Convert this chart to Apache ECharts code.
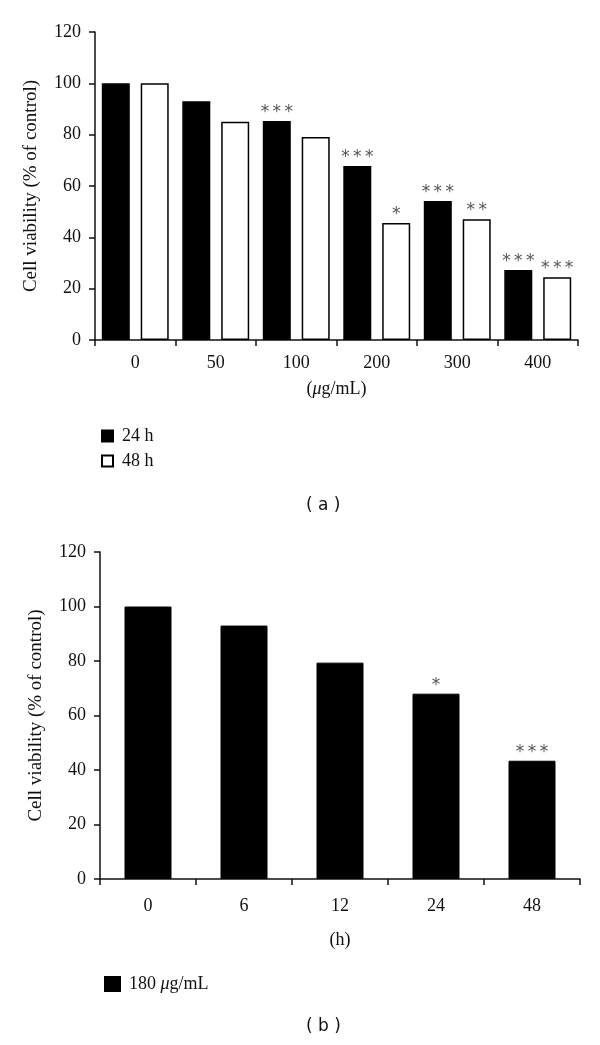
<!DOCTYPE html>
<html>
<head>
<meta charset="utf-8">
<style>
  html, body { margin: 0; padding: 0; background: #fff; }
  #chart { width: 600px; height: 1045px; }
</style>
<script src="https://cdn.jsdelivr.net/npm/echarts@6/dist/echarts.min.js"></script>
</head>
<body>
<div id="chart"></div>
<script>
// ---- data ----
const doses = ['0', '50', '100', '200', '300', '400'];
const viability24h = [100, 93, 85.3, 67.8, 54.2, 27.3];
const viability48h = [100, 85, 79.1, 45.6, 47, 24.4];
const sig24h = ['', '', '***', '***', '***', '***'];
const sig48h = ['', '', '', '*', '**', '***'];

const hours = ['0', '6', '12', '24', '48'];
const viability180 = [100, 93, 79.4, 68, 43.4];
const sig180 = ['', '', '', '*', '***'];

const yMin = 0, yMax = 120, yStep = 20;

const serif = 'Liberation Serif';
const sans = 'DejaVu Sans';
const ink = '#111';

function starLabel(sig) {
  return {
    show: true,
    position: 'top',
    distance: 0,
    fontFamily: sans,
    fontSize: 17,
    color: '#555',
    formatter: p => sig[p.dataIndex].split('').join('\u2009')
  };
}

function yAxisCfg(gridIndex) {
  return {
    type: 'value', gridIndex, min: yMin, max: yMax, interval: yStep,
    name: 'Cell viability (% of control)',
    nameLocation: 'middle', nameGap: 54,
    nameTextStyle: { fontFamily: serif, fontSize: 19, color: ink },
    axisLine: { show: true, lineStyle: { color: ink, width: 1.5 } },
    axisTick: { show: true, length: 6, lineStyle: { color: ink, width: 1.5 } },
    axisLabel: { fontFamily: serif, fontSize: 18, color: ink, margin: 14 },
    splitLine: { show: false }
  };
}

function xAxisCfg(gridIndex, cats, name, gap, margin) {
  return {
    type: 'category', gridIndex, data: cats,
    name, nameLocation: 'middle', nameGap: gap,
    nameTextStyle: {
      fontFamily: serif, fontSize: 18, color: ink,
      rich: { i: { fontFamily: serif, fontSize: 18, fontStyle: 'italic', color: ink } }
    },
    axisLine: { show: true, lineStyle: { color: ink, width: 1.5 } },
    axisTick: { show: true, length: 6, alignWithLabel: false, lineStyle: { color: ink, width: 1.5 } },
    axisLabel: { fontFamily: serif, fontSize: 18, color: ink, margin }
  };
}

const chart = echarts.init(document.getElementById('chart'), null, { renderer: 'canvas' });

chart.setOption({
  animation: false,
  backgroundColor: '#fff',
  grid: [
    { left: 95, top: 32, width: 483, height: 308 },
    { left: 100, top: 552, width: 480, height: 327 }
  ],
  xAxis: [
    xAxisCfg(0, doses, '({i|μ}g/mL)', 40, 14),
    xAxisCfg(1, hours, '(h)', 52, 18)
  ],
  yAxis: [yAxisCfg(0), yAxisCfg(1)],
  legend: [
    {
      data: ['24 h', '48 h'],
      orient: 'vertical', left: 96, top: 422,
      itemWidth: 11, itemHeight: 11, itemGap: 7,
      icon: 'rect',
      textStyle: { fontFamily: serif, fontSize: 18, color: ink, padding: [0, 0, 0, 4] }
    },
    {
      data: ['180 μg/mL'],
      orient: 'vertical', left: 99, top: 970,
      itemWidth: 15, itemHeight: 14,
      icon: 'rect',
      formatter: n => n.replace('μ', '{i|μ}'),
      textStyle: {
        fontFamily: serif, fontSize: 18, color: ink, padding: [0, 0, 0, 4],
        rich: { i: { fontFamily: serif, fontSize: 18, fontStyle: 'italic', color: ink } }
      }
    }
  ],
  series: [
    {
      name: '24 h', type: 'bar', xAxisIndex: 0, yAxisIndex: 0,
      data: viability24h, barWidth: 28, barGap: '39%',
      itemStyle: { color: '#000', borderColor: '#000', borderWidth: 1.5 },
      label: starLabel(sig24h)
    },
    {
      name: '48 h', type: 'bar', xAxisIndex: 0, yAxisIndex: 0,
      data: viability48h, barWidth: 28, barGap: '39%',
      itemStyle: { color: '#fff', borderColor: '#000', borderWidth: 1.5 },
      label: starLabel(sig48h)
    },
    {
      name: '180 μg/mL', type: 'bar', xAxisIndex: 1, yAxisIndex: 1,
      data: viability180, barWidth: 47,
      itemStyle: { color: '#000', borderColor: '#000', borderWidth: 1 },
      label: starLabel(sig180)
    }
  ],
  graphic: [
    { type: 'text', left: 306, top: 497, style: { text: '( a )', font: '17px "DejaVu Sans"', fill: '#111' } },
    { type: 'text', left: 306, top: 1018, style: { text: '( b )', font: '17px "DejaVu Sans"', fill: '#111' } }
  ]
});
</script>
</body>
</html>
